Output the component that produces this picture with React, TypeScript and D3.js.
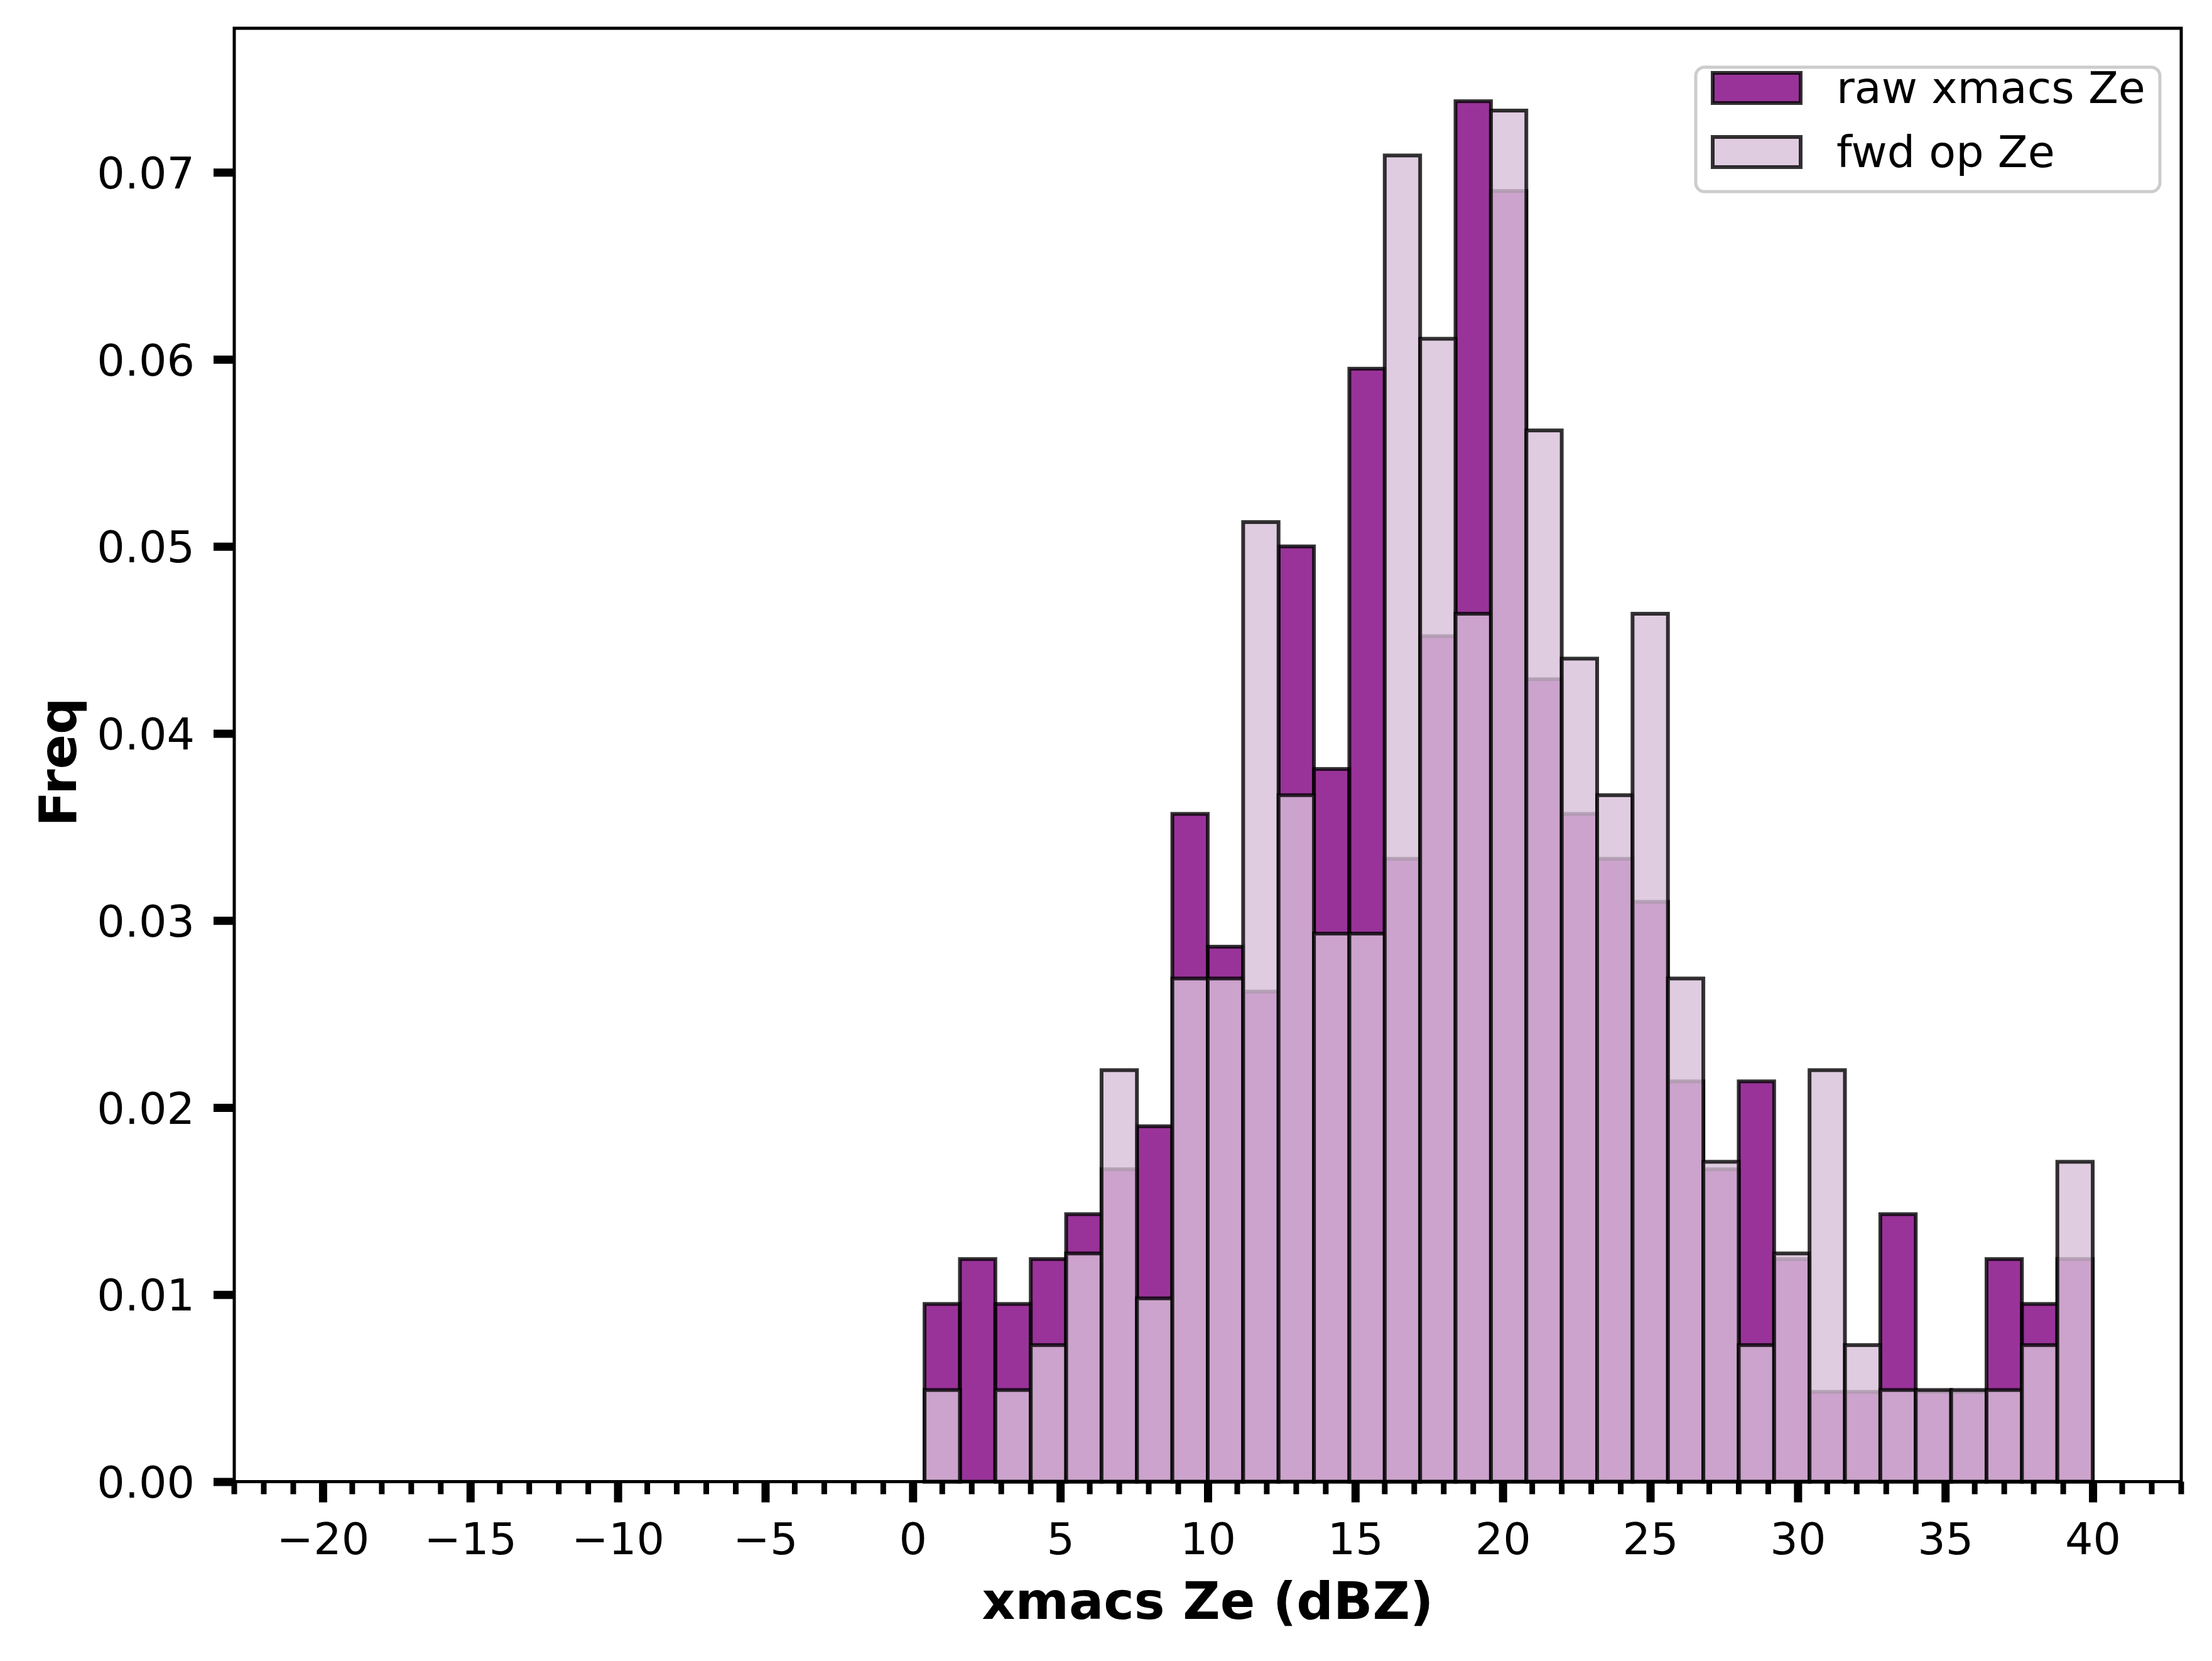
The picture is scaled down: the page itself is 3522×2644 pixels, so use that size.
import { useEffect, useRef } from "react";
import * as d3 from "d3";

// histogram bins (left edge, dBZ) and densities
const binLefts = [
    0.4, 1.6, 2.8, 4.0, 5.2, 6.4, 7.6, 8.8, 10.0, 11.2, 12.4, 13.6, 14.8, 16.0, 17.2, 18.4, 19.6,
    20.8, 22.0, 23.2, 24.4, 25.6, 26.8, 28.0, 29.2, 30.4, 31.6, 32.8, 34.0, 35.2, 36.4, 37.6, 38.8,
];
const binWidth = 1.2;

const rawZe = [
    0.0095, 0.0119, 0.0095, 0.0119, 0.0143, 0.0167, 0.0190, 0.0357, 0.0286, 0.0262, 0.0500, 0.0381,
    0.0595, 0.0333, 0.0452, 0.0738, 0.0690, 0.0429, 0.0357, 0.0333, 0.0310, 0.0214, 0.0167, 0.0214,
    0.0119, 0.0048, 0.0048, 0.0143, 0.0048, 0.0048, 0.0119, 0.0095, 0.0119,
];
const fwdZe = [
    0.0049, 0, 0.0049, 0.0073, 0.0122, 0.0220, 0.0098, 0.0269, 0.0269, 0.0513, 0.0367, 0.0293,
    0.0293, 0.0709, 0.0611, 0.0464, 0.0733, 0.0562, 0.0440, 0.0367, 0.0464, 0.0269, 0.0171, 0.0073,
    0.0122, 0.0220, 0.0073, 0.0049, 0.0049, 0.0049, 0.0049, 0.0073, 0.0171,
];

const seriesNames = ["raw xmacs Ze", "fwd op Ze"];
const seriesColors = ["purple", "thistle"];

const xTicks = [-20, -15, -10, -5, 0, 5, 10, 15, 20, 25, 30, 35, 40];
const yTicks = [0, 0.01, 0.02, 0.03, 0.04, 0.05, 0.06, 0.07];

const W = 3522;
const H = 2644;
const margin = { top: 45, right: 49, bottom: 285.5, left: 373 };
const font = "'DejaVu Sans', sans-serif";

const App = () => {
    const svgRef = useRef<SVGSVGElement | null>(null);

    useEffect(() => {
        if (!svgRef.current) return;
        const svg = d3.select(svgRef.current);
        svg.selectAll("*").remove();

        const x0 = margin.left, x1 = W - margin.right;
        const y0 = H - margin.bottom, y1 = margin.top;

        const x = d3.scaleLinear().domain([-23, 43]).range([x0, x1]);
        const y = d3.scaleLinear().domain([0, 0.0777]).range([y0, y1]);

        svg.append("rect").attr("width", W).attr("height", H).attr("fill", "white");

        // bars: raw first, fwd op layered on top
        [rawZe, fwdZe].forEach((vals, si) => {
            svg.append("g")
                .selectAll("rect")
                .data(vals.map((v, i) => ({ left: binLefts[i], v })).filter(d => d.v > 0))
                .join("rect")
                .attr("x", d => x(d.left))
                .attr("width", d => x(d.left + binWidth) - x(d.left))
                .attr("y", d => y(d.v))
                .attr("height", d => y(0) - y(d.v))
                .attr("fill", seriesColors[si])
                .attr("fill-opacity", 0.8)
                .attr("stroke", "black")
                .attr("stroke-opacity", 0.8)
                .attr("stroke-width", 6);
        });

        // spines
        svg.append("rect")
            .attr("x", x0).attr("y", y1)
            .attr("width", x1 - x0).attr("height", y0 - y1)
            .attr("fill", "none").attr("stroke", "black").attr("stroke-width", 5);

        // x minor ticks
        const minor = d3.range(-23, 44).filter(v => v % 5 !== 0);
        svg.append("g")
            .selectAll("line")
            .data(minor)
            .join("line")
            .attr("x1", d => x(d)).attr("x2", d => x(d))
            .attr("y1", y0).attr("y2", y0 + 20)
            .attr("stroke", "black").attr("stroke-width", 9);

        // x major ticks
        const xg = svg.append("g")
            .attr("transform", `translate(0,${y0})`)
            .call(d3.axisBottom(x).tickValues(xTicks).tickSize(33).tickSizeOuter(0)
                .tickFormat(d => d3.format("d")(d as number).replace("-", "\u2212")));
        xg.select(".domain").remove();
        xg.selectAll(".tick line").attr("stroke", "black").attr("stroke-width", 13);
        xg.selectAll(".tick text")
            .attr("y", 115).attr("dy", null)
            .attr("font-family", font).attr("font-size", 70).attr("fill", "black");

        // y ticks
        const yg = svg.append("g")
            .attr("transform", `translate(${x0},0)`)
            .call(d3.axisLeft(y).tickValues(yTicks).tickSize(33).tickSizeOuter(0)
                .tickFormat(d3.format(".2f")));
        yg.select(".domain").remove();
        yg.selectAll(".tick line").attr("stroke", "black").attr("stroke-width", 13);
        yg.selectAll(".tick text")
            .attr("x", -63).attr("dy", "0.36em")
            .attr("font-family", font).attr("font-size", 70).attr("fill", "black");

        // axis labels
        svg.append("text")
            .attr("x", (x0 + x1) / 2).attr("y", 2577)
            .attr("text-anchor", "middle")
            .attr("font-family", font).attr("font-size", 82).attr("font-weight", "bold")
            .text("xmacs Ze (dBZ)");

        svg.append("text")
            .attr("transform", "translate(121,1213) rotate(-90)")
            .attr("text-anchor", "middle")
            .attr("font-family", font).attr("font-size", 82).attr("font-weight", "bold")
            .text("Freq");

        // legend
        const lg = svg.append("g");
        lg.append("rect")
            .attr("x", 2700).attr("y", 107)
            .attr("width", 739).attr("height", 198)
            .attr("rx", 14)
            .attr("fill", "white").attr("fill-opacity", 0.8)
            .attr("stroke", "#cccccc").attr("stroke-width", 5);

        seriesNames.forEach((name, i) => {
            const cy = 140 + i * 102;
            lg.append("rect")
                .attr("x", 2727).attr("y", cy - 24)
                .attr("width", 140).attr("height", 48)
                .attr("fill", seriesColors[i]).attr("fill-opacity", 0.8)
                .attr("stroke", "black").attr("stroke-opacity", 0.8).attr("stroke-width", 6);
            lg.append("text")
                .attr("x", 2924).attr("y", cy + 24)
                .attr("font-family", font).attr("font-size", 70).attr("fill", "black")
                .text(name);
        });
    }, []);

    return (
        <svg
            ref={svgRef}
            width={W}
            height={H}
            style={{ position: "absolute", left: 0, top: 0, display: "block" }}
        ></svg>
    );
};

export default App;
